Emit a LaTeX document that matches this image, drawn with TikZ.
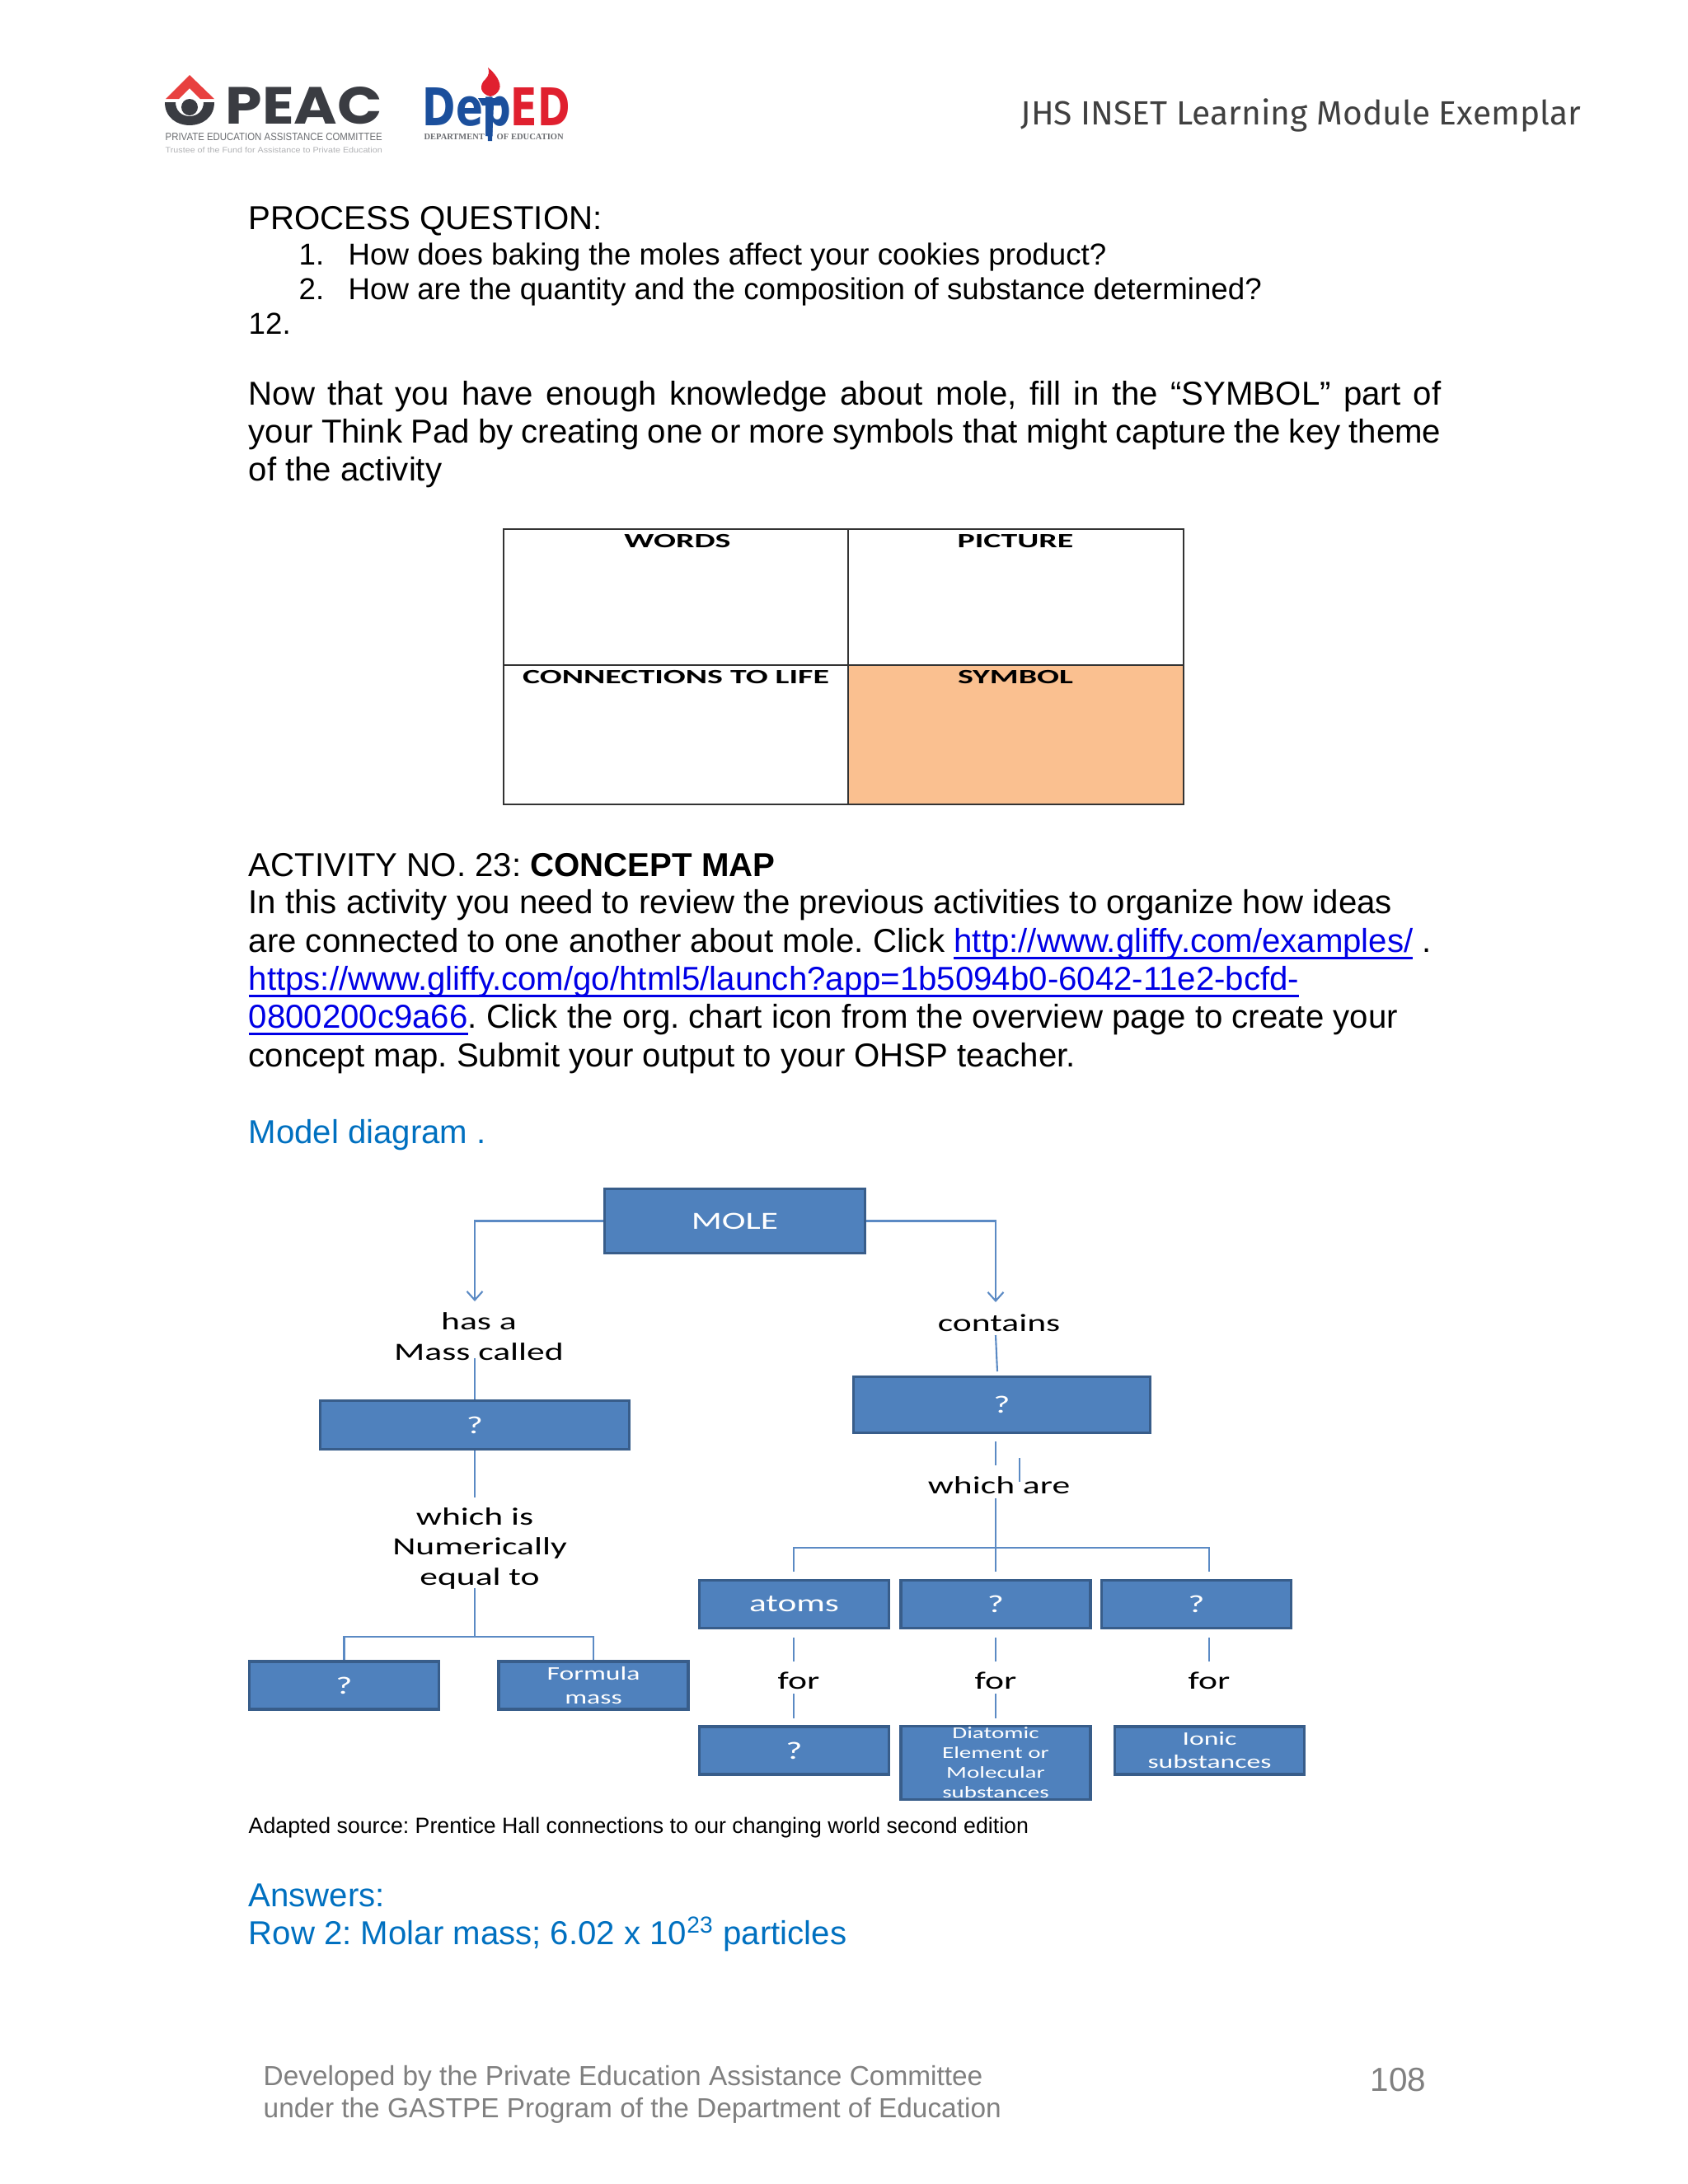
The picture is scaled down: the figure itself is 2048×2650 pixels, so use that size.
\documentclass[tikz,border=0pt]{standalone}
\usepackage{xcolor}
\usepackage{fontspec}
\usepackage{tikz}
\usetikzlibrary{positioning,arrows.meta}
\setmainfont{Liberation Sans}
\frenchspacing
\newfontfamily\diagfont[FakeStretch=1.45]{Carlito}
\newfontfamily\cellfont[FakeStretch=1.62]{Carlito}
\newfontfamily\headfont{Fira Sans}
\newfontfamily\logofont{Poppins}
\newfontfamily\depfont{DejaVu Sans}
\definecolor{boxfill}{HTML}{4F81BD}
\definecolor{boxline}{HTML}{385D8A}
\definecolor{connline}{HTML}{5B8AC4}
\definecolor{notecol}{HTML}{0070C0}
\definecolor{linkcol}{HTML}{0000E6}
\definecolor{footcol}{HTML}{808080}
\definecolor{cellfill}{HTML}{FAC090}
\definecolor{peacdark}{HTML}{3A3C42}
\definecolor{peacred}{HTML}{E8403F}
\definecolor{depblue}{HTML}{1B4F9C}
\definecolor{depred}{HTML}{E0202F}
\newcommand{\lnk}[1]{\textcolor{linkcol}{\setbox0\hbox{#1}\rlap{\rule[-0.93mm]{\wd0}{0.9pt}}\box0}}
\tikzset{
	body/.style={anchor=base west, inner sep=0pt, font=\fontsize{11.43}{13}\selectfont},
	item/.style={body, font=\fontsize{10.44}{12}\selectfont},
	word/.style={anchor=base, inner sep=0pt, align=center, font=\diagfont\fontsize{8.55}{10.25}\selectfont},
	cellword/.style={anchor=base, inner sep=0pt, font=\cellfont\bfseries\fontsize{7}{8}\selectfont},
	bluebox/.style={draw=boxline, fill=boxfill, line width=1pt, text=white, inner sep=0pt, align=center,
		font=\diagfont\fontsize{8.5}{10}\selectfont},
	rowbox/.style={bluebox, minimum width=2.30cm, minimum height=0.58cm},
	small/.style={font=\diagfont\fontsize{6.6}{8}\selectfont},
	tiny/.style={font=\diagfont\fontsize{5.7}{6.85}\selectfont},
	conn/.style={draw=connline, line width=0.6pt},
	barb/.style={-{Straight Barb[length=3pt,width=5.4pt]}},
	foot/.style={body, text=footcol, font=\fontsize{9.5}{12}\selectfont},
}
\begin{document}
\begin{tikzpicture}[x=0.01cm,y=-0.01cm]
	\useasboundingbox (0,0) rectangle (2048,2650);
	
	\fill[peacred] (230,91) -- (260,120) -- (243,120) -- (230,107) -- (217,120) -- (201,120) -- cycle;
	\fill[peacdark] (230,130) circle (10);
	\fill[peacdark] (200,124) .. controls (200,143) and (215,152) .. (230,152) .. controls (245,152) and (260,143) .. (260,124) -- (247,124) .. controls (247,134) and (240,141) .. (230,141) .. controls (220,141) and (213,134) .. (213,124) -- cycle;
	\node[anchor=south west, inner sep=0pt, text=peacdark] (peac) at (273,152) {\resizebox{1.90cm}{0.45cm}{\logofont\bfseries PEAC}};
	\node[anchor=south west, inner sep=0pt, text=peacdark!75] (peacsub) at (200,171) {\resizebox{2.63cm}{0.09cm}{PRIVATE EDUCATION ASSISTANCE COMMITTEE}};
	\node[anchor=south west, inner sep=0pt, text=peacdark!40] (peactrust) at (200,186) {\resizebox{2.63cm}{0.07cm}{Trustee of the Fund for Assistance to Private Education}};
	
	\node[anchor=base west, inner sep=0pt, text=depblue] (depword) at (512,152) {\resizebox{1.08cm}{0.46cm}{\depfont\bfseries Dep}};
	\node[anchor=base west, inner sep=0pt, text=depred] (edword) at (619,152) {\resizebox{0.72cm}{0.46cm}{\depfont\bfseries ED}};
	\fill[depred] (595,117) .. controls (582,114) and (581,103) .. (589,96) .. controls (593,92) and (594,87) .. (592,82) .. controls (600,88) and (609,100) .. (606,108) .. controls (604,113) and (600,116) .. (595,117) -- cycle;
	\fill[depblue] (580,119) -- (612,119) -- (607,128) -- (599,128) -- (597,171) -- (592,171) -- (590,128) -- (585,128) -- cycle;
	\node[anchor=south west, inner sep=0pt, text=peacdark!75] (deptl) at (514,170) {\resizebox{0.73cm}{0.07cm}{\fontspec{Liberation Serif}\bfseries DEPARTMENT}};
	\node[anchor=south west, inner sep=0pt, text=peacdark!75] (deptr) at (602,170) {\resizebox{0.81cm}{0.07cm}{\fontspec{Liberation Serif}\bfseries OF EDUCATION}};
	
	\node[anchor=base west, inner sep=0pt, text=black!75] (header) at (1238,151) {\resizebox{6.79cm}{!}{\headfont JHS INSET Learning Module Exemplar}};
	
	\node[body] (procq) at (301,278) {PROCESS QUESTION:};
	\node[item] (num1) at (362,321) {1.};
	\node[item] (q1text) at (422,321) {How does baking the moles affect your cookies product?};
	\node[item] (num2) at (362,363) {2.};
	\node[item] (q2text) at (422,363) {How are the quantity and the composition of substance determined?};
	\node[item] (numtw) at (301,405) {12.};
	
	\node[body] (para1) at (301,491) {\makebox[14.46cm][s]{Now that you have enough knowledge about mole, fill in the “SYMBOL” part of}};
	\node[body] (para2) at (301,537) {\makebox[14.46cm][s]{your Think Pad by creating one or more symbols that might capture the key theme}};
	\node[body] (para3) at (301,583) {of the activity};
	
	\fill[cellfill] (1029,807) rectangle (1436,976);
	\draw[black!80, line width=0.6pt] (611,642) rectangle (1436,976);
	\draw[black!80, line width=0.6pt] (1029,642) -- (1029,976);
	\draw[black!80, line width=0.6pt] (611,807) -- (1436,807);
	\node[cellword] (words) at (822,664) {WORDS};
	\node[cellword] (picture) at (1232,664) {PICTURE};
	\node[cellword] (connlife) at (820,829) {CONNECTIONS TO LIFE};
	\node[cellword] (symbol) at (1232,829) {SYMBOL};
	
	\node[body] (acttitle) at (301,1063) {ACTIVITY NO. 23: \textbf{CONCEPT MAP}};
	\node[body] (act1) at (301,1108) {In this activity you need to review the previous activities to organize how ideas};
	\node[body] (act2) at (301,1155) {are connected to one another about mole. Click \lnk{http://www.gliffy.com/examples/} .};
	\node[body] (act3) at (301,1201) {\lnk{https://www.gliffy.com/go/html5/launch?app=1b5094b0-6042-11e2-bcfd-}};
	\node[body] (act4) at (301,1247) {\lnk{0800200c9a66}. Click the org. chart icon from the overview page to create your};
	\node[body] (act5) at (301,1294) {concept map. Submit your output to your OHSP teacher.};
	\node[body, text=notecol] (model) at (301,1387) {Model diagram .};
	
	\node[bluebox, minimum width=3.16cm, minimum height=0.78cm] (mole) at (891.5,1481.5) {MOLE};
	\node[bluebox, minimum width=3.75cm, minimum height=0.59cm] (massq) at (576,1729) {?};
	\node[bluebox, minimum width=3.60cm, minimum height=0.68cm] (partq) at (1215.5,1704.5) {?};
	
	\node[word] (hasa) at (581,1650) {has a\\Mass called};
	\node[word] (contains) at (1212,1615) {contains};
	\node[word] (whichare) at (1212,1812) {which are};
	\node[word] (whichis) at (582,1923) {which is\kern0.12cm\\Numerically\\equal to};
	
	\coordinate (hasatip) at (576,1579);
	\coordinate (hasaend) at (576,1648);
	\coordinate (massend) at (576,1817);
	\coordinate (eqend) at (576,1927);
	\coordinate (eqsplit) at (576,1986);
	\coordinate (contip) at (1208,1580);
	\coordinate (conlow) at (1208,1620);
	\coordinate (conbox) at (1210,1664);
	\coordinate (partlow) at (1208,1749);
	\coordinate (parthalf) at (1208,1778);
	\coordinate (strayup) at (1237,1769);
	\coordinate (straydown) at (1237,1798);
	\coordinate (arestem) at (1208,1818);
	\coordinate (areend) at (1208,1907);
	\coordinate (aresplit) at (1208,1878);
	
	\node[rowbox] (molar) at (417.5,2045) {?};
	\node[rowbox, small] (formula) at (720,2045) {Formula\\mass};
	\node[rowbox] (atoms) at (963.5,1946.5) {atoms};
	\node[rowbox] (molec) at (1208,1946.5) {?};
	\node[rowbox] (ions) at (1451.5,1946.5) {?};
	\node[rowbox] (atomq) at (963.5,2124) {?};
	\node[rowbox, tiny, minimum height=0.89cm] (diatomic) at (1208,2139) {Diatomic\\Element or\\Molecular\\substances};
	\node[rowbox, small] (ionic) at (1467.5,2124) {Ionic\\substances};
	
	\draw[conn, barb] (mole.west) -| (hasatip);
	\draw[conn] (hasaend) -- (massq.north);
	\draw[conn] (massq.south) -- (massend);
	\draw[conn] (eqend) -- (eqsplit);
	\draw[conn] (molar.north) |- (eqsplit) -| (formula.north);
	
	\draw[conn, barb] (mole.east) -| (contip);
	\draw[conn] (conlow) -- (conbox);
	\draw[conn] (partlow) -- (parthalf);
	\draw[conn] (strayup) -- (straydown);
	\draw[conn] (arestem) -- (areend);
	
	\node[word] (for1) at (969,2049) {for};
	\node[word] (for2) at (1208,2049) {for};
	\node[word] (for3) at (1467,2049) {for};
	
	\coordinate (dropa) at (963,1907);
	\coordinate (dropc) at (1467,1907);
	\draw[conn] (dropa) |- (aresplit) -| (dropc);
	
	\coordinate (upa) at (963,1987);
	\coordinate (upb) at (1208,1987);
	\coordinate (upc) at (1467,1987);
	\coordinate (mida) at (963,2016);
	\coordinate (midb) at (1208,2016);
	\coordinate (midc) at (1467,2016);
	\coordinate (lowa) at (963,2055);
	\coordinate (lowb) at (1208,2055);
	\coordinate (enda) at (963,2085);
	\coordinate (endb) at (1208,2085);
	\draw[conn] (upa) -- (mida);
	\draw[conn] (upb) -- (midb);
	\draw[conn] (upc) -- (midc);
	\draw[conn] (lowa) -- (enda);
	\draw[conn] (lowb) -- (endb);
	
	\node[body, font=\fontsize{7.6}{10}\selectfont] (source) at (301,2224) {Adapted source: Prentice Hall connections to our changing world second edition};
	\node[body, text=notecol] (answers) at (301,2313) {Answers:};
	\node[body, text=notecol] (row2) at (301,2359) {Row 2: Molar mass; 6.02 x 10\textsuperscript{23} particles};
	
	\node[foot] (foot1) at (319,2530) {Developed by the Private Education Assistance Committee};
	\node[foot] (foot2) at (319,2569) {under the GASTPE Program of the Department of Education};
	\node[foot, font=\fontsize{11.5}{13}\selectfont] (pagenum) at (1662,2537) {108};
\end{tikzpicture}
\end{document}
